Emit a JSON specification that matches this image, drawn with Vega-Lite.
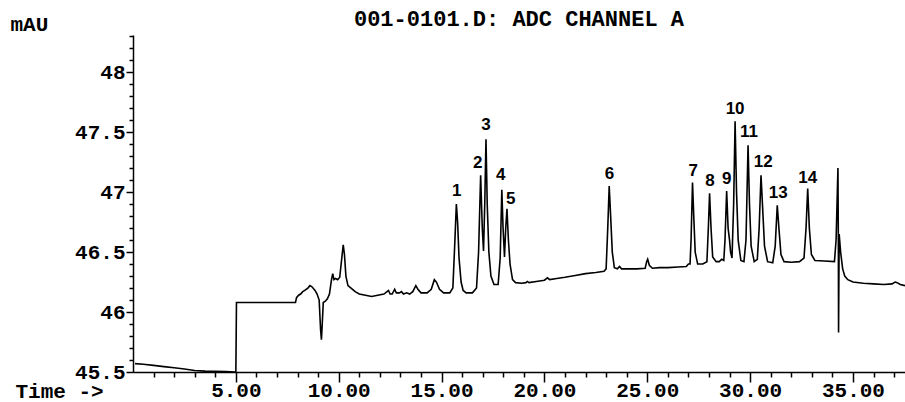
{
  "$schema": "https://vega.github.io/schema/vega-lite/v6.json",
  "width": 772,
  "height": 337,
  "autosize": "none",
  "padding": {"left": 133, "top": 35, "right": 0, "bottom": 30},
  "background": "white",
  "title": {"text": "001-0101.D: ADC CHANNEL A", "font": "Liberation Mono", "fontSize": 22, "fontWeight": "bold", "color": "black", "anchor": "middle", "baseline": "alphabetic", "offset": -35},
  "config": {"view": {"stroke": null}},
  "layer": [
    {
      "data": {"values": [
        {"t":0.1,"v":45.57},{"t":0.5,"v":45.565},{"t":1.0,"v":45.555},{"t":1.5,"v":45.545},{"t":2.0,"v":45.535},{"t":2.5,"v":45.525},{"t":3.0,"v":45.512},{"t":3.5,"v":45.507},{"t":4.0,"v":45.505},{"t":4.5,"v":45.503},{"t":4.95,"v":45.5},{"t":5.0,"v":45.49},{"t":5.03,"v":46.08},{"t":6.0,"v":46.08},{"t":7.0,"v":46.08},{"t":7.9,"v":46.08},{"t":7.95,"v":46.12},{"t":8.05,"v":46.14},{"t":8.15,"v":46.15},{"t":8.25,"v":46.17},{"t":8.35,"v":46.18},{"t":8.5,"v":46.2},{"t":8.6,"v":46.22},{"t":8.7,"v":46.21},{"t":8.85,"v":46.18},{"t":8.95,"v":46.15},{"t":9.05,"v":46.1},{"t":9.12,"v":45.85},{"t":9.16,"v":45.77},{"t":9.2,"v":45.9},{"t":9.25,"v":46.08},{"t":9.35,"v":46.09},{"t":9.45,"v":46.11},{"t":9.55,"v":46.15},{"t":9.65,"v":46.27},{"t":9.71,"v":46.32},{"t":9.77,"v":46.27},{"t":9.85,"v":46.28},{"t":9.95,"v":46.27},{"t":10.05,"v":46.29},{"t":10.15,"v":46.45},{"t":10.22,"v":46.56},{"t":10.28,"v":46.48},{"t":10.35,"v":46.3},{"t":10.45,"v":46.22},{"t":10.6,"v":46.2},{"t":10.8,"v":46.17},{"t":11.0,"v":46.15},{"t":11.3,"v":46.14},{"t":11.6,"v":46.13},{"t":11.9,"v":46.14},{"t":12.2,"v":46.15},{"t":12.35,"v":46.17},{"t":12.42,"v":46.18},{"t":12.5,"v":46.15},{"t":12.6,"v":46.15},{"t":12.72,"v":46.19},{"t":12.8,"v":46.16},{"t":12.95,"v":46.16},{"t":13.05,"v":46.17},{"t":13.15,"v":46.15},{"t":13.3,"v":46.16},{"t":13.45,"v":46.15},{"t":13.6,"v":46.17},{"t":13.75,"v":46.22},{"t":13.85,"v":46.19},{"t":14.0,"v":46.16},{"t":14.3,"v":46.16},{"t":14.5,"v":46.19},{"t":14.65,"v":46.27},{"t":14.75,"v":46.25},{"t":14.9,"v":46.19},{"t":15.1,"v":46.16},{"t":15.4,"v":46.16},{"t":15.55,"v":46.2},{"t":15.65,"v":46.6},{"t":15.72,"v":46.9},{"t":15.78,"v":46.75},{"t":15.85,"v":46.45},{"t":15.95,"v":46.25},{"t":16.05,"v":46.18},{"t":16.2,"v":46.16},{"t":16.5,"v":46.16},{"t":16.7,"v":46.2},{"t":16.8,"v":46.5},{"t":16.9,"v":47.14},{"t":16.98,"v":46.7},{"t":17.04,"v":46.51},{"t":17.1,"v":46.9},{"t":17.16,"v":47.44},{"t":17.22,"v":46.9},{"t":17.3,"v":46.5},{"t":17.4,"v":46.3},{"t":17.55,"v":46.23},{"t":17.75,"v":46.23},{"t":17.85,"v":46.45},{"t":17.93,"v":47.02},{"t":17.99,"v":46.7},{"t":18.06,"v":46.46},{"t":18.12,"v":46.7},{"t":18.18,"v":46.86},{"t":18.25,"v":46.6},{"t":18.33,"v":46.4},{"t":18.45,"v":46.27},{"t":18.6,"v":46.245},{"t":18.9,"v":46.24},{"t":19.1,"v":46.245},{"t":19.17,"v":46.255},{"t":19.25,"v":46.245},{"t":19.6,"v":46.255},{"t":20.0,"v":46.265},{"t":20.15,"v":46.285},{"t":20.25,"v":46.27},{"t":20.6,"v":46.28},{"t":21.0,"v":46.29},{"t":21.5,"v":46.305},{"t":22.0,"v":46.32},{"t":22.5,"v":46.33},{"t":22.9,"v":46.34},{"t":23.0,"v":46.36},{"t":23.08,"v":46.7},{"t":23.15,"v":47.05},{"t":23.22,"v":46.8},{"t":23.3,"v":46.5},{"t":23.4,"v":46.37},{"t":23.55,"v":46.36},{"t":23.65,"v":46.38},{"t":23.75,"v":46.36},{"t":24.0,"v":46.36},{"t":24.5,"v":46.36},{"t":24.9,"v":46.365},{"t":24.97,"v":46.42},{"t":25.02,"v":46.44},{"t":25.1,"v":46.39},{"t":25.25,"v":46.365},{"t":25.6,"v":46.37},{"t":26.0,"v":46.37},{"t":26.5,"v":46.375},{"t":26.9,"v":46.38},{"t":27.0,"v":46.4},{"t":27.08,"v":46.4},{"t":27.13,"v":46.6},{"t":27.2,"v":47.08},{"t":27.26,"v":46.8},{"t":27.33,"v":46.5},{"t":27.45,"v":46.4},{"t":27.7,"v":46.4},{"t":27.9,"v":46.42},{"t":27.97,"v":46.7},{"t":28.03,"v":46.99},{"t":28.1,"v":46.7},{"t":28.18,"v":46.46},{"t":28.35,"v":46.42},{"t":28.5,"v":46.42},{"t":28.62,"v":46.44},{"t":28.72,"v":46.43},{"t":28.78,"v":46.6},{"t":28.86,"v":47.01},{"t":28.93,"v":46.7},{"t":29.0,"v":46.6},{"t":29.05,"v":46.5},{"t":29.12,"v":46.45},{"t":29.2,"v":46.9},{"t":29.27,"v":47.59},{"t":29.34,"v":47.0},{"t":29.42,"v":46.6},{"t":29.55,"v":46.43},{"t":29.7,"v":46.42},{"t":29.8,"v":46.6},{"t":29.9,"v":47.39},{"t":29.97,"v":46.9},{"t":30.05,"v":46.55},{"t":30.2,"v":46.42},{"t":30.35,"v":46.44},{"t":30.44,"v":46.7},{"t":30.53,"v":47.14},{"t":30.6,"v":46.9},{"t":30.7,"v":46.55},{"t":30.85,"v":46.42},{"t":31.1,"v":46.41},{"t":31.22,"v":46.55},{"t":31.32,"v":46.89},{"t":31.4,"v":46.7},{"t":31.5,"v":46.48},{"t":31.65,"v":46.42},{"t":32.0,"v":46.415},{"t":32.4,"v":46.42},{"t":32.62,"v":46.45},{"t":32.72,"v":46.7},{"t":32.8,"v":47.03},{"t":32.88,"v":46.7},{"t":32.98,"v":46.48},{"t":33.15,"v":46.43},{"t":33.6,"v":46.425},{"t":34.1,"v":46.42},{"t":34.18,"v":46.6},{"t":34.24,"v":47.0},{"t":34.27,"v":47.2},{"t":34.29,"v":46.6},{"t":34.3,"v":45.83},{"t":34.33,"v":46.65},{"t":34.4,"v":46.5},{"t":34.5,"v":46.36},{"t":34.6,"v":46.3},{"t":34.75,"v":46.27},{"t":35.0,"v":46.25},{"t":35.5,"v":46.24},{"t":36.0,"v":46.235},{"t":36.5,"v":46.23},{"t":36.9,"v":46.235},{"t":37.05,"v":46.25},{"t":37.15,"v":46.245},{"t":37.3,"v":46.23},{"t":37.53,"v":46.22}
      ]},
      "mark": {"type": "line", "color": "black", "strokeWidth": 1.6, "clip": true},
      "encoding": {
        "x": {"field": "t", "type": "quantitative", "scale": {"domain": [0, 37.53], "nice": false, "zero": false},
          "axis": {"values": [1,2,3,4,5,6,7,8,9,10,11,12,13,14,15,16,17,18,19,20,21,22,23,24,25,26,27,28,29,30,31,32,33,34,35,36,37],
            "tickCount": 200,
            "labelExpr": "datum.value % 5 === 0 ? format(datum.value, '.2f') : ''",
            "tickSize": {"condition": {"test": "datum.value % 5 === 0", "value": 10}, "value": 5},
            "grid": false, "domainColor": "black", "domainWidth": 1.5, "tickColor": "black", "tickWidth": 1.5,
            "labelFont": "Liberation Mono", "labelFontWeight": "bold", "labelFontSize": 21, "labelColor": "black",
            "labelBaseline": "alphabetic", "labelPadding": 14, "labelOverlap": false, "labelFlush": false, "labelBound": false,
            "title": "Time ->", "titleFont": "Liberation Mono", "titleFontSize": 21, "titleFontWeight": "bold", "titleColor": "black",
            "titleX": -118, "titleY": 25, "titleAlign": "left", "titleBaseline": "alphabetic", "titleAnchor": "start"}},
        "y": {"field": "v", "type": "quantitative", "scale": {"domain": [45.5, 48.31], "nice": false, "zero": false},
          "axis": {"values": [45.5,45.6,45.7,45.8,45.9,46.0,46.1,46.2,46.3,46.4,46.5,46.6,46.7,46.8,46.9,47.0,47.1,47.2,47.3,47.4,47.5,47.6,47.7,47.8,47.9,48.0,48.1,48.2,48.3],
            "tickCount": 200,
            "labelExpr": "abs(datum.value*2 - round(datum.value*2)) < 0.001 ? toString(round(datum.value*2)/2) : ''",
            "tickSize": {"condition": {"test": "abs(datum.value*2 - round(datum.value*2)) < 0.001", "value": 7}, "value": 4},
            "grid": false, "domainColor": "black", "domainWidth": 1.5, "tickColor": "black", "tickWidth": 1.5,
            "labelFont": "Liberation Mono", "labelFontWeight": "bold", "labelFontSize": 21, "labelColor": "black",
            "labelPadding": 1, "labelOverlap": false, "labelFlush": false, "labelBound": false,
            "title": "mAU", "titleFont": "Liberation Mono", "titleFontSize": 21, "titleFontWeight": "bold", "titleColor": "black",
            "titleAngle": 0, "titleX": -123, "titleY": -5, "titleAlign": "left", "titleBaseline": "alphabetic", "titleAnchor": "start"}}
      }
    },
    {
      "data": {"values": [
        {"t":15.74,"v":47.01,"peak":"1"},{"t":16.76,"v":47.24,"peak":"2"},{"t":17.16,"v":47.56,"peak":"3"},{"t":17.88,"v":47.14,"peak":"4"},{"t":18.36,"v":46.94,"peak":"5"},{"t":23.16,"v":47.15,"peak":"6"},{"t":27.24,"v":47.18,"peak":"7"},{"t":28.05,"v":47.09,"peak":"8"},{"t":28.86,"v":47.11,"peak":"9"},{"t":29.27,"v":47.69,"peak":"10"},{"t":29.95,"v":47.5,"peak":"11"},{"t":30.64,"v":47.25,"peak":"12"},{"t":31.37,"v":46.99,"peak":"13"},{"t":32.8,"v":47.12,"peak":"14"}
      ]},
      "mark": {"type": "text", "font": "Liberation Sans", "fontWeight": "bold", "fontSize": 17, "color": "black", "align": "center", "baseline": "middle"},
      "encoding": {
        "x": {"field": "t", "type": "quantitative"},
        "y": {"field": "v", "type": "quantitative"},
        "text": {"field": "peak"}
      }
    }
  ]
}
